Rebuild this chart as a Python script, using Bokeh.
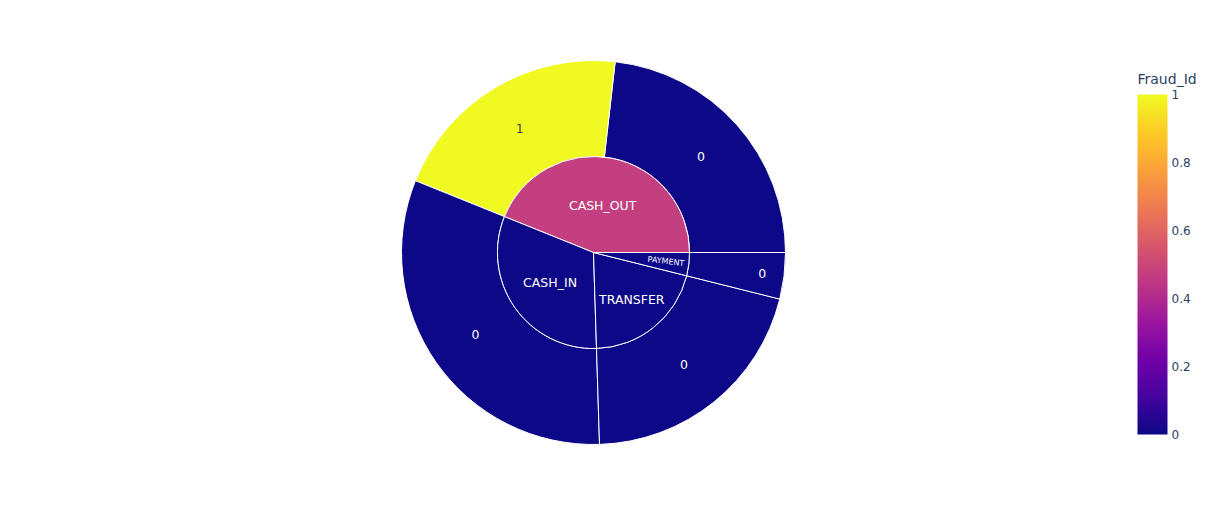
import math
from bokeh.plotting import figure
from bokeh.models import (ColumnDataSource, Range1d, ColorBar, LinearColorMapper,
                          FixedTicker, CustomJSTickFormatter)
from bokeh.core.properties import value
from bokeh.embed import file_html
from bokeh.resources import INLINE

# ---- data ----
leaf_type = ["CASH_OUT", "CASH_OUT", "CASH_IN", "TRANSFER", "PAYMENT"]
leaf_fraud = [0, 1, 0, 0, 0]
leaf_value = [23.2, 20.7, 31.6, 20.6, 3.9]
parent_types = ["CASH_OUT", "CASH_IN", "TRANSFER", "PAYMENT"]
colorbar_ticks = [0, 0.2, 0.4, 0.6, 0.8, 1]
colorbar_title = "Fraud_Id"

# ---- styling ----
W, H = 1224, 525
CX, CY = 593, H - 252
R_IN, R_OUT = 96, 192
FONT = "DejaVu Sans"
plasma_stops = ['#0d0887', '#46039f', '#7201a8', '#9c179e', '#bd3786',
                '#d8576b', '#ed7953', '#fb9f3a', '#fdca26', '#f0f921']


def hex2rgb(h):
    h = h.lstrip('#')
    return tuple(int(h[i:i + 2], 16) for i in (0, 2, 4))


def plasma(t):
    t = min(max(t, 0.0), 1.0)
    pos = t * (len(plasma_stops) - 1)
    i = min(int(pos), len(plasma_stops) - 2)
    f = pos - i
    a, b = hex2rgb(plasma_stops[i]), hex2rgb(plasma_stops[i + 1])
    c = [round(a[k] + (b[k] - a[k]) * f) for k in range(3)]
    return '#%02x%02x%02x' % tuple(c)


palette = [plasma(i / 255) for i in range(256)]

total = sum(leaf_value)

# outer ring angles
o_start, o_end = [], []
acc = 0.0
for v in leaf_value:
    o_start.append(acc / total * 2 * math.pi)
    acc += v
    o_end.append(acc / total * 2 * math.pi)

# inner ring
p_val = [sum(v for t, v in zip(leaf_type, leaf_value) if t == pt) for pt in parent_types]
p_fraud = [sum(v * f for t, v, f in zip(leaf_type, leaf_value, leaf_fraud) if t == pt) / pv
           for pt, pv in zip(parent_types, p_val)]
i_start, i_end = [], []
acc = 0.0
for v in p_val:
    i_start.append(acc / total * 2 * math.pi)
    acc += v
    i_end.append(acc / total * 2 * math.pi)

p = figure(width=W, height=H, x_range=Range1d(0, W), y_range=Range1d(0, H),
           output_backend="svg", toolbar_location=None, min_border=0,
           background_fill_color="white", border_fill_color="white")
p.axis.visible = False
p.grid.visible = False
p.outline_line_color = None

outer = ColumnDataSource(dict(start=o_start, end=o_end,
                              color=[plasma(f) for f in leaf_fraud]))
p.annular_wedge(x=CX, y=CY, inner_radius=R_IN, outer_radius=R_OUT,
                start_angle='start', end_angle='end', fill_color='color',
                line_color='white', line_width=1, source=outer)

inner = ColumnDataSource(dict(start=i_start, end=i_end,
                              color=[plasma(f) for f in p_fraud]))
p.wedge(x=CX, y=CY, radius=R_IN, start_angle='start', end_angle='end',
        fill_color='color', line_color='white', line_width=1, source=inner)

# labels
inner_label_r = [48, 53, 61, 73]
ix, iy, iang, isz = [], [], [], []
for k, (s, e) in enumerate(zip(i_start, i_end)):
    m = (s + e) / 2
    ix.append(CX + inner_label_r[k] * math.cos(m))
    iy.append(CY + inner_label_r[k] * math.sin(m))
    small = (e - s) < 0.4
    iang.append(m if small else 0.0)
    isz.append('8px' if small else '12.5px')
p.text(x='x', y='y', text='t', angle='a', text_font_size='s',
       source=ColumnDataSource(dict(x=ix, y=iy, t=parent_types, a=iang, s=isz)),
       text_font=value(FONT), text_color='white', text_align='center',
       text_baseline='middle')

outer_label_r = [144, 144, 144, 144, 170]
ox, oy, oc = [], [], []
for k, (s, e) in enumerate(zip(o_start, o_end)):
    m = (s + e) / 2
    ox.append(CX + outer_label_r[k] * math.cos(m))
    oy.append(CY + outer_label_r[k] * math.sin(m))
    oc.append('#444444' if leaf_fraud[k] > 0.5 else 'white')
p.text(x='x', y='y', text='t', text_color='c',
       source=ColumnDataSource(dict(x=ox, y=oy, t=[str(f) for f in leaf_fraud], c=oc)),
       text_font=value(FONT), text_font_size='12.5px', text_align='center',
       text_baseline='middle')

mapper = LinearColorMapper(palette=palette, low=0, high=1)
cb = ColorBar(color_mapper=mapper, width=30, height=340, location=(1137, 91),
              padding=0,
              major_label_text_font=FONT, major_label_text_font_size='12px',
              major_label_text_color='#2a3f5f', label_standoff=4,
              ticker=FixedTicker(ticks=colorbar_ticks),
              formatter=CustomJSTickFormatter(code="return String(Math.round(tick*10)/10)"),
              major_tick_line_color=None, bar_line_color=None,
              border_line_color=None, background_fill_color=None)
p.add_layout(cb, 'center')

p.text(x=[1137], y=[H - 78], text=[colorbar_title], text_font=value(FONT),
       text_font_size='14px', text_color='#2a3f5f', text_align='left',
       text_baseline='middle')

open("out.html", "w").write(file_html(p, INLINE))
